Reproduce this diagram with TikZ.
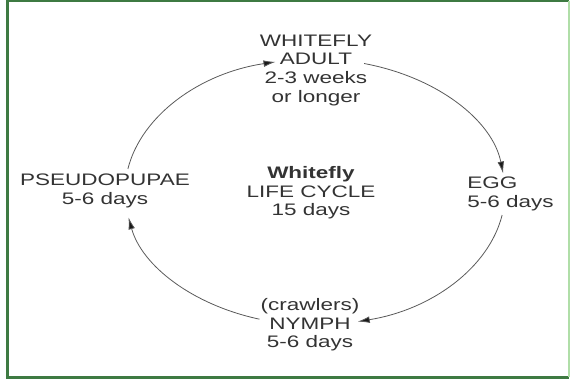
\documentclass[tikz,border=0pt]{standalone}
\usepackage{fontspec}
\setmainfont{Liberation Sans}[FakeStretch=1.35]
\usetikzlibrary{arrows.meta, positioning}

\definecolor{framegreen}{RGB}{62,122,66}
\definecolor{framelight}{RGB}{176,222,168}

\begin{document}
\begin{tikzpicture}[
  x=0.75pt, y=-0.75pt,
  lbl/.style={font=\fontsize{12.5}{14}\selectfont, text=black!80,
              align=center, inner sep=0pt},
  cyc/.style={-{Latex[length=9pt,width=5pt,fill=black!90]}, line width=0.6pt,
              draw=black!65},
  rim/.style={line width=2.2pt, draw=framegreen}
]
\useasboundingbox (0,0) rectangle (572,381);
% green frame
\draw[rim] (7.5,0) -- (7.5,377.5) -- (569,377.5);
\draw[rim] (6,1) -- (569,1);
\draw[line width=1.6pt, draw=framelight] (569,1) -- (569,377.5);

% stages
\node[lbl] (adult) at (316,70) {WHITEFLY\\ADULT\\2-3 weeks\\or longer};
\node[lbl, align=left, anchor=west] (egg) at (467,194) {EGG\\5-6 days};
\node[lbl] (nymph) at (310,325) {(crawlers)\\NYMPH\\5-6 days};
\node[lbl] (pupa)  at (105,191) {PSEUDOPUPAE\\5-6 days};
\node[lbl] (title) at (311,193) {\textbf{Whitefly}\\LIFE CYCLE\\15 days};

% points on the cycle
\coordinate (hub) at (315,192);
\path (hub) ++(-75:190 and 133) coordinate (adult-out);
\path (hub) ++(-8:190 and 133)  coordinate (egg-in);
\path (hub) ++(10:190 and 133)  coordinate (egg-out);
\path (hub) ++(77:190 and 133)  coordinate (nymph-in);
\path (hub) ++(107:190 and 133) coordinate (nymph-out);
\path (hub) ++(169:190 and 133) coordinate (pupa-in);
\path (hub) ++(190:190 and 133) coordinate (pupa-out);
\path (hub) ++(258:190 and 133) coordinate (adult-in);

\draw[cyc] (adult-out) arc[start angle=-75, end angle=-8,
                           x radius=190, y radius=133];
\draw[cyc] (egg-out)   arc[start angle=10, end angle=77,
                           x radius=190, y radius=133];
\draw[cyc] (nymph-out) arc[start angle=107, end angle=169,
                           x radius=190, y radius=133];
\draw[cyc] (pupa-out)  arc[start angle=190, end angle=258,
                           x radius=190, y radius=133];
\end{tikzpicture}
\end{document}
